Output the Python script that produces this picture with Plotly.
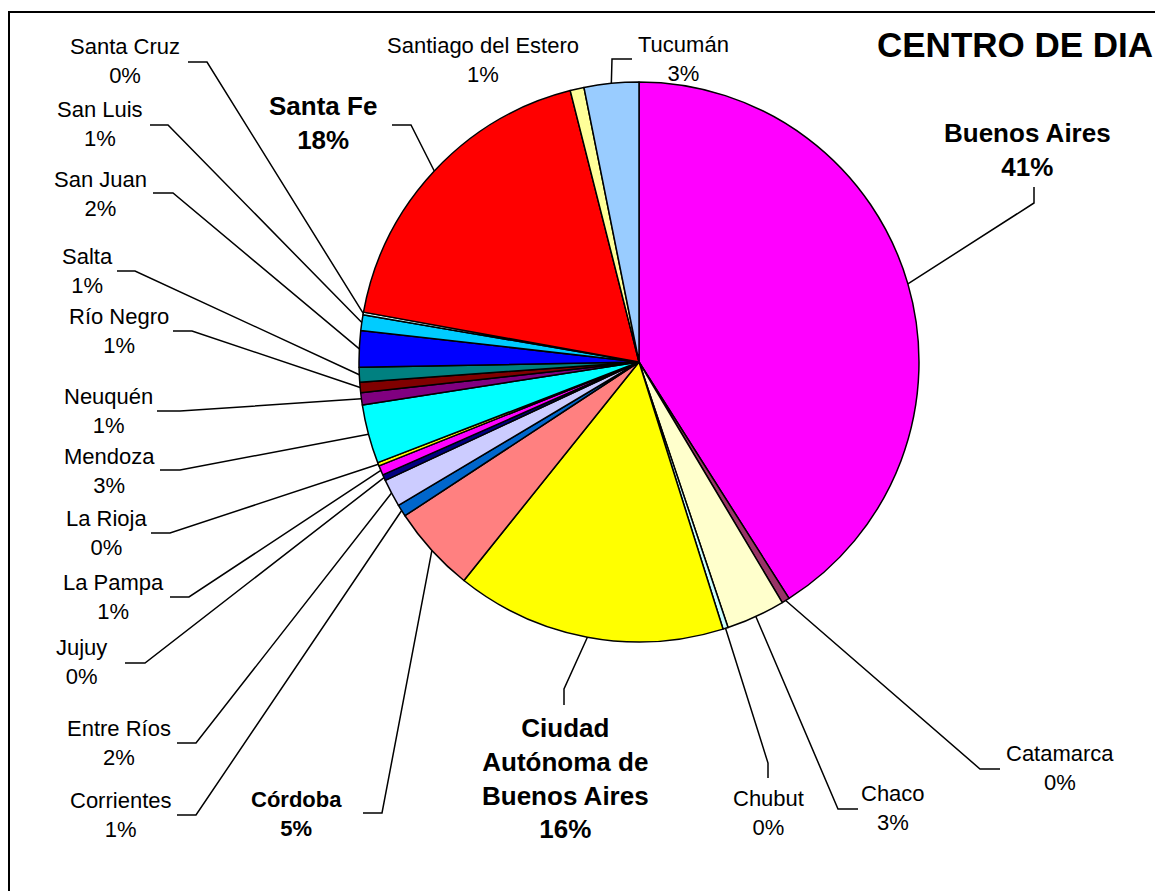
import math
import plotly.graph_objects as go

# ---- data ----
provinces = ["Buenos Aires", "Catamarca", "Chaco", "Chubut",
             "Ciudad Autónoma de Buenos Aires", "Córdoba", "Corrientes",
             "Entre Ríos", "Jujuy", "La Pampa", "La Rioja", "Mendoza",
             "Neuquén", "Río Negro", "Salta", "San Juan", "San Luis",
             "Santa Cruz", "Santa Fe", "Santiago del Estero", "Tucumán"]
shares = [41.0, 0.45, 3.4, 0.3, 15.6, 5.0, 0.7, 1.6, 0.35, 0.55, 0.2, 3.4,
          0.7, 0.6, 0.85, 2.1, 0.9, 0.15, 18.2, 0.8, 3.15]
label_names = ["Buenos Aires", "Catamarca", "Chaco", "Chubut",
               "Ciudad<br>Autónoma de<br>Buenos Aires", "Córdoba", "Corrientes",
               "Entre Ríos", "Jujuy", "La Pampa", "La Rioja", "Mendoza",
               "Neuquén", "Río Negro", "Salta", "San Juan", "San Luis",
               "Santa Cruz", "Santa Fe", "Santiago del Estero", "Tucumán"]
colors = ["#FF00FF", "#993366", "#FFFFCC", "#CCFFFF", "#FFFF00", "#FF8080",
          "#0066CC", "#CCCCFF", "#000080", "#FF00FF", "#FFFF00", "#00FFFF",
          "#800080", "#800000", "#008080", "#0000FF", "#00CCFF", "#CCFFFF",
          "#FF0000", "#FFFF99", "#99CCFF"]
title_text = "CENTRO DE DIA"

# ---- layout constants (pixels) ----
W, H = 1155, 891
CX, CY, R = 639, 362, 280

# label centre (x, y), leader stub: outer point, inner point (None = no leader)
label_layout = {
    "Buenos Aires": ((1027, 150), (1034, 187), (1034, 203)),
    "Catamarca": ((1060, 768), (1000, 769), (980, 769)),
    "Chaco": ((893, 808), (858, 809), (838, 809)),
    "Chubut": ((768, 813), (768, 778), (768, 763)),
    "Ciudad Autónoma de Buenos Aires": ((565, 778), (564, 705), (564, 689)),
    "Córdoba": ((296, 814), (363, 813), (382, 813)),
    "Corrientes": ((120, 815), (177, 815), (196, 815)),
    "Entre Ríos": ((119, 743), (177, 743), (196, 743)),
    "Jujuy": ((81, 662), (125, 663), (145, 663)),
    "La Pampa": ((113, 597), (170, 597), (189, 597)),
    "La Rioja": ((106, 533), (151, 533), (170, 533)),
    "Mendoza": ((109, 471), (160, 470), (180, 470)),
    "Neuquén": ((108, 411), (157, 411), (180, 411)),
    "Río Negro": ((119, 331), (173, 331), (192, 331)),
    "Salta": ((87, 271), (117, 271), (135, 271)),
    "San Juan": ((100, 194), (153, 193), (173, 193)),
    "San Luis": ((100, 124), (150, 125), (168, 125)),
    "Santa Cruz": ((125, 61), (188, 62), (207, 62)),
    "Santa Fe": ((323, 123), (392, 125), (411, 125)),
    "Santiago del Estero": ((483, 60), None, None),
    "Tucumán": ((683, 59), (632, 59), (612, 59)),
}
big_bold = {"Buenos Aires", "Ciudad Autónoma de Buenos Aires", "Santa Fe"}
small_bold = {"Córdoba"}
FONT = "Liberation Sans, Arial, sans-serif"


def fx(x):
    return x / W


def fy(y):
    return 1 - y / H


fig = go.Figure()
fig.add_trace(go.Pie(
    labels=provinces, values=shares, sort=False, direction="clockwise",
    rotation=0, textinfo="none", hoverinfo="label+percent",
    marker=dict(colors=colors, line=dict(color="black", width=1.5)),
    domain=dict(x=[fx(CX - R), fx(CX + R)], y=[fy(CY + R), fy(CY - R)]),
    showlegend=False,
))

total = sum(shares)
annotations = []
shapes = []
cum = 0.0
for name, lab, v in zip(provinces, label_names, shares):
    pct = round(v / total * 100)
    mid = (cum + v / 2) / total * 2 * math.pi
    cum += v
    ex = CX + R * math.sin(mid)
    ey = CY - R * math.cos(mid)
    (lx, ly), s_out, s_in = label_layout[name]
    if name in big_bold:
        font = dict(family=FONT, size=26, color="black")
        txt = f"<b>{lab}<br>{pct}%</b>"
    elif name in small_bold:
        font = dict(family=FONT, size=22, color="black")
        txt = f"<b>{lab}<br>{pct}%</b>"
    else:
        font = dict(family=FONT, size=22, color="black")
        txt = f"{lab}<br>{pct}%"
    annotations.append(dict(x=fx(lx), y=fy(ly), xref="paper", yref="paper",
                            text=txt, showarrow=False, font=font,
                            xanchor="center", yanchor="middle", align="center"))
    if s_out is not None:
        path = (f"M {fx(s_out[0])} {fy(s_out[1])} L {fx(s_in[0])} {fy(s_in[1])} "
                f"L {fx(ex)} {fy(ey)}")
        shapes.append(dict(type="path", path=path, xref="paper", yref="paper",
                           line=dict(color="black", width=1.5)))

annotations.append(dict(x=fx(875), y=fy(44), xref="paper", yref="paper",
                        text=f"<b>{title_text}</b>", showarrow=False,
                        font=dict(family=FONT, size=35, color="black"),
                        xanchor="left", yanchor="middle"))

shapes.append(dict(type="rect", xref="paper", yref="paper",
                   x0=fx(9), y0=fy(12), x1=fx(W + 20), y1=fy(H + 20),
                   line=dict(color="black", width=2), fillcolor="rgba(0,0,0,0)"))

fig.update_layout(width=W, height=H, margin=dict(l=0, r=0, t=0, b=0),
                  paper_bgcolor="white", plot_bgcolor="white",
                  annotations=annotations, shapes=shapes)

fig.write_html("out.html", config={"displayModeBar": False},
               post_script="document.body.style.margin='0';"
                           "document.body.style.overflow='hidden';")
